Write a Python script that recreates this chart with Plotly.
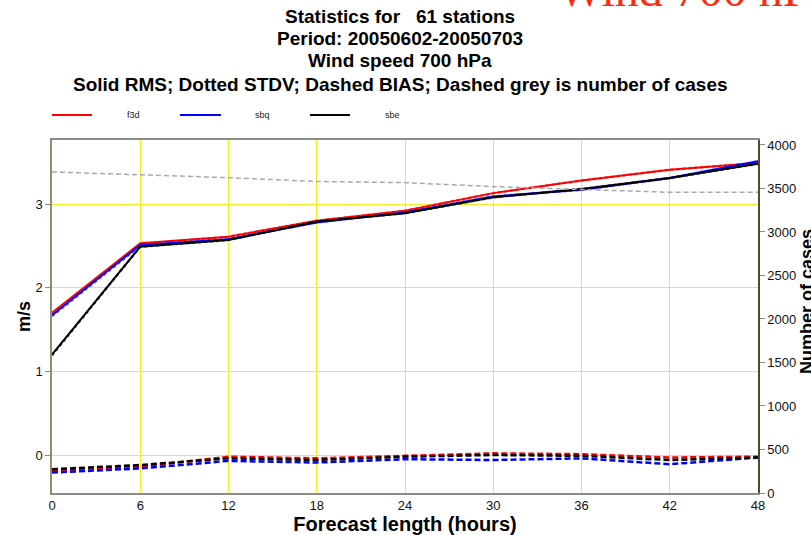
import plotly.graph_objects as go

# ---- data ----
lead_hours = [0, 6, 12, 18, 24, 30, 36, 42, 48]
models = ["f3d", "sbq", "sbe"]
model_colors = ["#ff0000", "#0000ff", "#000000"]

rms_f3d = [1.70, 2.53, 2.61, 2.80, 2.92, 3.13, 3.28, 3.41, 3.49]
rms_sbq = [1.67, 2.51, 2.58, 2.78, 2.90, 3.09, 3.17, 3.31, 3.51]
rms_sbe = [1.20, 2.49, 2.57, 2.79, 2.89, 3.08, 3.18, 3.31, 3.48]

stdv_f3d = [1.69, 2.52, 2.61, 2.80, 2.92, 3.13, 3.28, 3.41, 3.49]
stdv_sbq = [1.66, 2.50, 2.58, 2.78, 2.90, 3.09, 3.17, 3.31, 3.51]
stdv_sbe = [1.19, 2.49, 2.57, 2.79, 2.89, 3.08, 3.18, 3.31, 3.48]

bias_f3d = [-0.19, -0.14, -0.02, -0.04, -0.01, 0.02, 0.01, -0.03, -0.02]
bias_sbq = [-0.21, -0.16, -0.07, -0.09, -0.05, -0.06, -0.04, -0.11, -0.03]
bias_sbe = [-0.17, -0.12, -0.04, -0.06, -0.02, 0.00, -0.01, -0.06, -0.03]

n_cases = [3690, 3660, 3624, 3580, 3567, 3521, 3490, 3456, 3456]

x_ticks = [0, 6, 12, 18, 24, 30, 36, 42, 48]
y_ticks = [0, 1, 2, 3]
y2_ticks = [0, 500, 1000, 1500, 2000, 2500, 3000, 3500, 4000]

title_lines = [
    "Statistics for   61 stations",
    "Period: 20050602-20050703",
    "Wind speed 700 hPa",
    "Solid RMS; Dotted STDV; Dashed BIAS; Dashed grey is number of cases",
]

rms = [rms_f3d, rms_sbq, rms_sbe]
stdv = [stdv_f3d, stdv_sbq, stdv_sbe]
bias = [bias_f3d, bias_sbq, bias_sbe]

# ---- layout geometry ----
W, H = 811, 535
L, R, T, B = 52, 53, 140, 42
PW, PH = W - L - R, H - T - B


def px(xp):
    return (xp - L) / PW


def py(yp):
    return (H - B - yp) / PH


fig = go.Figure()

# number of cases (grey dashed, right axis)
fig.add_trace(go.Scatter(x=lead_hours, y=n_cases, yaxis="y2", mode="lines",
                         line=dict(color="#aaaaaa", width=1.5, dash="5px,3px"),
                         showlegend=False))

for name, col, b in zip(models, model_colors, bias):
    fig.add_trace(go.Scatter(x=lead_hours, y=b, mode="lines", name=name,
                             line=dict(color=col, width=2.5, dash="6px,3px"),
                             showlegend=False))
for name, col, s in zip(models, model_colors, stdv):
    fig.add_trace(go.Scatter(x=lead_hours, y=s, mode="lines", name=name,
                             line=dict(color=col, width=2.5, dash="dot"),
                             opacity=0.6, showlegend=False))
for name, col, r in zip(models, model_colors, rms):
    fig.add_trace(go.Scatter(x=lead_hours, y=r, mode="lines", name=name,
                             line=dict(color=col, width=2),
                             showlegend=False))

tick_font = dict(family="Liberation Sans Narrow, Liberation Sans, Arial", size=13, color="#111111")
bold_font = dict(family="Liberation Sans, Arial", size=18, color="#000000")
grid_col = "#eeee20"

fig.update_layout(
    width=W, height=H,
    margin=dict(l=L, r=R, t=T, b=B, autoexpand=False),
    paper_bgcolor="white", plot_bgcolor="white",
    xaxis=dict(
        range=[0, 48], tickvals=x_ticks, ticktext=[str(v) for v in x_ticks],
        showgrid=True, gridcolor=grid_col, gridwidth=1, zeroline=False,
        showline=True, linecolor="#8c8c8c", linewidth=1.5, mirror=True,
        ticks="", tickfont=tick_font,
        title=dict(text="<b>Forecast length (hours)</b>",
                   font=dict(family="Liberation Sans, Arial", size=20, color="#000000"),
                   standoff=4),
        automargin=False,
    ),
    yaxis=dict(
        range=[-0.454, 3.765], tickvals=y_ticks, ticktext=[str(v) for v in y_ticks],
        showgrid=True, gridcolor=grid_col, gridwidth=1, zeroline=False,
        showline=True, linecolor="#8f8f6f", linewidth=1.5,
        ticks="outside", ticklen=5, tickcolor="#8c8c8c", tickfont=tick_font,
        title=dict(text="<b>m/s</b>", font=bold_font, standoff=0),
        automargin=False,
    ),
    yaxis2=dict(
        range=[0, 4057], tickvals=y2_ticks, ticktext=[str(v) for v in y2_ticks],
        overlaying="y", side="right", showgrid=False, zeroline=False,
        showline=True, linecolor="#4d4d2e", linewidth=1.5,
        ticks="outside", ticklen=5, tickcolor="#8c8c8c", tickfont=tick_font,
        automargin=False,
    ),
    showlegend=False,
)

# title lines
for line, yp in zip(title_lines, [16, 38, 61, 84]):
    fig.add_annotation(text="<b>" + line + "</b>", xref="paper", yref="paper",
                       x=px(400), y=py(yp), xanchor="center", yanchor="middle",
                       showarrow=False,
                       font=dict(family="Liberation Sans, Arial", size=19, color="#000000"))

# right axis title (off-centre, partly clipped)
fig.add_annotation(text="<b>Number of cases</b>", textangle=-90,
                   xref="paper", yref="paper", x=px(807), y=py(302),
                   xanchor="center", yanchor="middle", showarrow=False,
                   font=bold_font)

# big red header, clipped at the top
fig.add_annotation(text="Wind 700 hPa", xref="paper", yref="paper",
                   x=px(556), y=py(18), xanchor="left", yanchor="bottom",
                   showarrow=False,
                   font=dict(family="Liberation Serif, Times New Roman", size=48, color="#ff2a10"))

# manual legend
legend_y = py(115)
legend_items = [(52, 92, 125), (180, 221, 253), (310, 350, 383)]
for (x0, x1, xt), name, col in zip(legend_items, models, model_colors):
    fig.add_shape(type="line", xref="paper", yref="paper",
                  x0=px(x0), x1=px(x1), y0=legend_y, y1=legend_y,
                  line=dict(color=col, width=2))
    fig.add_annotation(text=name, xref="paper", yref="paper", x=px(xt), y=legend_y,
                       xanchor="left", yanchor="middle", showarrow=False,
                       font=dict(family="Liberation Sans, Arial", size=9, color="#222222"))

fig.write_html("out.html")
